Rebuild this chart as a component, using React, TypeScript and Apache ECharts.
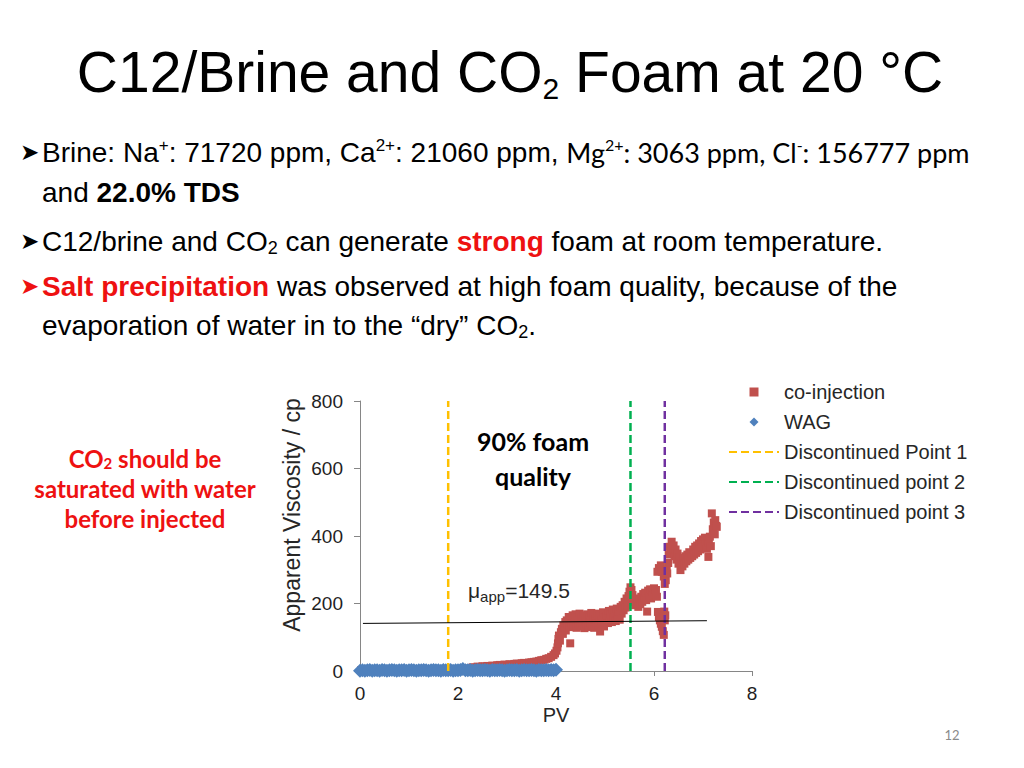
import React, { useEffect, useRef } from "react";
import * as echarts from "echarts";

// ---- data ----
const xTicks = [0, 2, 4, 6, 8];
const yTicks = [0, 200, 400, 600, 800];

// co-injection: [PV, apparent viscosity cp]
const coInjection: number[][] = [
  [0.02, 2], [0.1, 1], [0.2, 2], [0.3, 1], [0.4, 2], [0.5, 2], [0.6, 1], [0.7, 2], [0.8, 2], [0.9, 3],
  [1.0, 2], [1.1, 2], [1.2, 3], [1.3, 2], [1.4, 3], [1.5, 3], [1.6, 2], [1.7, 3], [1.8, 3], [1.9, 4],
  [2.0, 3], [2.1, 4], [2.15, 4],
  [2.2, 5], [2.25, 8], [2.3, 11], [2.35, 10], [2.4, 13], [2.45, 12], [2.5, 14], [2.55, 13], [2.6, 15],
  [2.65, 14], [2.7, 16], [2.75, 15], [2.8, 17], [2.85, 18], [2.9, 17], [2.95, 19], [3.0, 18], [3.05, 20],
  [3.1, 19], [3.15, 21], [3.2, 22], [3.25, 21], [3.3, 23], [3.35, 24], [3.4, 23], [3.45, 25], [3.5, 26],
  [3.55, 27], [3.6, 28], [3.65, 30], [3.7, 32], [3.75, 33], [3.8, 36], [3.85, 38], [3.9, 42], [3.95, 47],
  [3.98, 52],
  [4.01, 60], [4.03, 70], [4.04, 82], [4.05, 95], [4.06, 105], [4.08, 90], [4.1, 115], [4.12, 125],
  [4.14, 110], [4.15, 135], [4.17, 128], [4.19, 145], [4.2, 120], [4.22, 150], [4.24, 138], [4.26, 160],
  [4.28, 130], [4.29, 82], [4.3, 155], [4.32, 142], [4.34, 165], [4.36, 135],
  [4.38, 150], [4.4, 168], [4.42, 128], [4.44, 158], [4.46, 140], [4.48, 170], [4.5, 132], [4.52, 155],
  [4.54, 145], [4.56, 165], [4.58, 127], [4.6, 150], [4.62, 138], [4.64, 168], [4.66, 130], [4.68, 158],
  [4.7, 145], [4.72, 172], [4.74, 135], [4.76, 160], [4.78, 128], [4.8, 152], [4.82, 142], [4.84, 170],
  [4.86, 135], [4.88, 162], [4.9, 117], [4.92, 150], [4.94, 140], [4.96, 174], [4.98, 132], [5.0, 158],
  [5.02, 145],
  [5.04, 165], [5.06, 142], [5.08, 178], [5.1, 150], [5.12, 168], [5.14, 145], [5.16, 182], [5.18, 155],
  [5.2, 172], [5.22, 148], [5.24, 185], [5.26, 160], [5.28, 176], [5.3, 152], [5.32, 190],
  [5.34, 170], [5.36, 195], [5.38, 180], [5.4, 205], [5.42, 188], [5.44, 215], [5.46, 195], [5.48, 222],
  [5.5, 235], [5.52, 248], [5.54, 240], [5.56, 225], [5.58, 212],
  [5.6, 205], [5.62, 195], [5.64, 215], [5.66, 200], [5.68, 190], [5.7, 210], [5.72, 198], [5.74, 220],
  [5.76, 205], [5.78, 228], [5.86, 176],
  [5.8, 215], [5.82, 232], [5.84, 210], [5.88, 238], [5.9, 220], [5.92, 242], [5.94, 215], [5.96, 235],
  [5.98, 225], [6.0, 245], [6.02, 228], [6.04, 240], [6.06, 220],
  [6.08, 175], [6.1, 160], [6.12, 150], [6.14, 140], [6.16, 131], [6.18, 118], [6.2, 107], [6.22, 150],
  [6.23, 165], [6.21, 176], [6.19, 160],
  [6.07, 294], [6.1, 305], [6.14, 313], [6.16, 294], [6.2, 280], [6.22, 258], [6.24, 269], [6.26, 300],
  [6.27, 289], [6.29, 320],
  [6.3, 345], [6.32, 368], [6.34, 355], [6.36, 383], [6.38, 350], [6.4, 372], [6.42, 340], [6.44, 360],
  [6.46, 330], [6.48, 348], [6.5, 318], [6.52, 335], [6.54, 299], [6.56, 322], [6.58, 310], [6.6, 335],
  [6.62, 318], [6.64, 340], [6.66, 325], [6.68, 345], [6.7, 330], [6.72, 352], [6.74, 335], [6.76, 348],
  [6.78, 340], [6.8, 360], [6.82, 345], [6.84, 368], [6.86, 350], [6.88, 372], [6.9, 355], [6.92, 378],
  [6.94, 360], [6.96, 385], [6.98, 365], [7.0, 390], [7.02, 370], [7.04, 395], [7.06, 375], [7.08, 362],
  [7.1, 388], [7.11, 338], [7.12, 380], [7.14, 398], [7.16, 370], [7.18, 467], [7.2, 420], [7.22, 440],
  [7.24, 405], [7.25, 447], [7.27, 430], [7.28, 427],
];

// WAG
const wagPV = [
  0, 0.05, 0.1, 0.15, 0.2, 0.25, 0.3, 0.35, 0.4, 0.45, 0.5, 0.55, 0.6, 0.65, 0.7, 0.75, 0.8, 0.85, 0.9, 0.95,
  1, 1.05, 1.1, 1.15, 1.2, 1.25, 1.3, 1.35, 1.4, 1.45, 1.5, 1.55, 1.6, 1.65, 1.7, 1.75, 1.8, 1.85, 1.9, 1.95,
  2, 2.05, 2.1, 2.15, 2.2, 2.25, 2.3, 2.35, 2.4, 2.45, 2.5, 2.55, 2.6, 2.65, 2.7, 2.75, 2.8, 2.85, 2.9, 2.95,
  3, 3.05, 3.1, 3.15, 3.2, 3.25, 3.3, 3.35, 3.4, 3.45, 3.5, 3.55, 3.6, 3.65, 3.7, 3.75, 3.8, 3.85, 3.9, 3.95,
  4,
];
const wagVisc = [
  1, 2, 1, 2, 3, 1, 2, 2, 1, 3,
  2, 1, 2, 3, 2, 1, 2, 2, 3, 1,
  2, 3, 2, 1, 2, 2, 3, 2, 1, 2,
  3, 2, 2, 1, 3, 2, 2, 3, 1, 2,
  2, 3, 6, 2, 2, 3, 1, 2, 3, 2,
  2, 3, 2, 1, 3, 2, 2, 3, 2, 1,
  2, 3, 2, 2, 3, 1, 2, 3, 2, 2,
  3, 2, 1, 3, 2, 2, 3, 2, 3, 2,
  4,
];

// discontinued points (PV)
const discNames = ["Discontinued Point 1", "Discontinued point 2", "Discontinued point 3"];
const discPV = [1.8, 5.52, 6.22];
const discColors = ["#FFC000", "#00B050", "#7030A0"];

// average apparent viscosity line
const muPV = [0.06, 7.08];
const muVisc = [141, 149];

const AR = "'Liberation Sans', Arial, sans-serif";
const CA = "Lato, Carlito, sans-serif";
const RED = "#EE1111";

export default function App() {
  const ref = useRef<HTMLDivElement>(null);

  useEffect(() => {
    const chart = echarts.init(ref.current as HTMLDivElement, null, { renderer: "svg" });

    const txt = (x: number, y: number, style: any, extra: any = {}) => ({
      type: "text",
      x,
      y,
      silent: true,
      style: {
        textAlign: "left",
        align: "left",
        textVerticalAlign: "middle",
        verticalAlign: "middle",
        ...style,
      },
      ...extra,
    });

    const a = { fontSize: 28, fontFamily: AR, fill: "#000", lineHeight: 40 };
    const ab = { ...a, fontWeight: "bold" };
    const ar = { ...a, fontWeight: "bold", fill: RED };
    const asup = { fontSize: 17, fontFamily: AR, fill: "#000", lineHeight: 20, padding: [0, 0, 14, 0] };
    const asub = { fontSize: 18, fontFamily: AR, fill: "#000", lineHeight: 20, padding: [14, 0, 0, 0] };
    const c = { fontSize: 27, fontFamily: CA, fill: "#000", lineHeight: 40 };
    const csup = { fontSize: 16, fontFamily: CA, fill: "#000", lineHeight: 20, padding: [0, 0, 16, 0] };

    const NB = "\u00A0";
    const ARROW = { text: "➤", fontSize: 23, fontFamily: "'DejaVu Sans'" };

    const graphics: any[] = [
      // title
      txt(510, 72, {
        text: `{a|C12/Brine and CO}{s|2}{a|${NB}Foam at 20 °C}`,
        textAlign: "center",
        align: "center",
        rich: {
          a: { fontSize: 57, fontFamily: AR, fill: "#000", lineHeight: 66 },
          s: { fontSize: 30, fontFamily: AR, fill: "#000", lineHeight: 30, padding: [33, 0, 0, 0] },
        },
      }),
      // bullet arrows
      txt(20, 152, { ...ARROW, fill: "#000" }),
      txt(20, 241, { ...ARROW, fill: "#000" }),
      txt(20, 286, { ...ARROW, fill: RED }),
      // bullet 1
      txt(42, 152, {
        text:
          `{a|Brine: Na}{as|+}{a|: 71720 ppm, Ca}{as|2+}{a|: 21060 ppm,${NB}}` +
          `{c|Mg}{cs|2+}{c|: 3063 ppm, Cl}{cs|-}{c|: 156777 ppm}`,
        rich: { a, as: asup, c, cs: csup },
      }),
      txt(42, 192, { text: `{a|and${NB}}{ab|22.0% TDS}`, rich: { a, ab } }),
      // bullet 2
      txt(42, 241, {
        text: `{a|C12/brine and CO}{s|2}{a|${NB}can generate${NB}}{r|strong}{a|${NB}foam at room temperature.}`,
        rich: { a, s: asub, r: ar },
      }),
      // bullet 3
      txt(42, 286, {
        text: `{r|Salt precipitation}{a|${NB}was observed at high foam quality, because of the}`,
        rich: { a, r: ar },
      }),
      txt(42, 325, {
        text: `{a|evaporation of water in to the “dry” CO}{s|2}{a|.}`,
        rich: { a, s: asub },
      }),
      // left red note
      txt(145, 488, {
        text: `{r|CO}{rs|2}{r|${NB}should be}\n{r|saturated with water}\n{r|before injected}`,
        textAlign: "center",
        align: "center",
        rich: {
          r: { fontSize: 24, fontFamily: CA, fontWeight: "bold", fill: RED, lineHeight: 30, align: "center" },
          rs: {
            fontSize: 15, fontFamily: CA, fontWeight: "bold", fill: RED, lineHeight: 16,
            padding: [10, 0, 0, 0],
          },
        },
      }),
      // 90% foam quality
      txt(533, 458, {
        text: "90% foam\nquality",
        textAlign: "center",
        align: "center",
        fontSize: 25,
        fontFamily: CA,
        fontWeight: "bold",
        fill: "#000",
        lineHeight: 35,
      }),
      // mu_app label
      txt(468, 590, {
        text: `{m|μ}{s|app}{m|=149.5}`,
        rich: {
          m: { fontSize: 21, fontFamily: AR, fill: "#262626", lineHeight: 26 },
          s: { fontSize: 15, fontFamily: AR, fill: "#262626", lineHeight: 16, padding: [13, 0, 0, 0] },
        },
      }),
      // y axis title
      txt(
        292,
        515,
        {
          text: "Apparent Viscosity / cp",
          textAlign: "center",
          align: "center",
          fontSize: 23,
          fontFamily: AR,
          fill: "#262626",
        },
        { rotation: Math.PI / 2 }
      ),
      // page number
      txt(952, 735, { text: "12", textAlign: "center", align: "center", fontSize: 13, fontFamily: CA, fill: "#8A8A8A" }),
    ];

    const option: any = {
      animation: false,
      backgroundColor: "#ffffff",
      grid: { left: 360, top: 401, right: 272, bottom: 97, containLabel: false },
      xAxis: {
        type: "value",
        min: xTicks[0],
        max: xTicks[xTicks.length - 1],
        interval: xTicks[1] - xTicks[0],
        name: "PV",
        nameLocation: "middle",
        nameGap: 34,
        nameTextStyle: { fontSize: 20, fontFamily: AR, color: "#262626" },
        axisLine: { show: true, lineStyle: { color: "#868686", width: 1 } },
        axisTick: { show: true, length: 5, lineStyle: { color: "#868686" } },
        axisLabel: { fontSize: 19, fontFamily: AR, color: "#1f1f1f", margin: 13 },
        splitLine: { show: false },
      },
      yAxis: {
        type: "value",
        min: yTicks[0],
        max: yTicks[yTicks.length - 1],
        interval: yTicks[1] - yTicks[0],
        axisLine: { show: true, lineStyle: { color: "#868686", width: 1 } },
        axisTick: { show: true, length: 6, lineStyle: { color: "#868686" } },
        axisLabel: { fontSize: 19, fontFamily: AR, color: "#1f1f1f", margin: 17 },
        splitLine: { show: false },
      },
      legend: {
        orient: "vertical",
        left: 728,
        top: 382,
        padding: 0,
        itemWidth: 50,
        itemHeight: 9,
        itemGap: 10,
        selectedMode: false,
        symbolKeepAspect: true,
        textStyle: { fontSize: 20, fontFamily: AR, color: "#262626" },
        data: [
          { name: "co-injection", icon: "path://M0,0L10,0L10,10L0,10Z" },
          { name: "WAG", icon: "path://M5,0L10,5L5,10L0,5Z" },
          ...discNames.map((n) => ({ name: n, itemStyle: { opacity: 0 } })),
        ],
      },
      series: [
        {
          name: "co-injection",
          type: "scatter",
          symbol: "rect",
          symbolSize: 8,
          itemStyle: { color: "#C0504D", opacity: 1 },
          data: coInjection,
        },
        ...discNames.map((n, i) => ({
          name: n,
          type: "line",
          symbol: "none",
          color: discColors[i],
          lineStyle: { color: discColors[i], width: 2.5, type: [8, 4] },
          itemStyle: { color: discColors[i] },
          data: [
            [discPV[i], yTicks[0]],
            [discPV[i], yTicks[yTicks.length - 1]],
          ],
        })),
        {
          name: "mu",
          type: "line",
          symbol: "none",
          lineStyle: { color: "#000", width: 1 },
          data: muPV.map((p, i) => [p, muVisc[i]]),
        },
        {
          name: "WAG",
          type: "scatter",
          symbol: "diamond",
          symbolSize: 14,
          itemStyle: { color: "#4F81BD", opacity: 1 },
          data: wagPV.map((p, i) => [p, wagVisc[i]]),
        },
      ],
      graphic: { elements: graphics },
    };

    chart.setOption(option);
    return () => chart.dispose();
  }, []);

  return (
    <div
      ref={ref}
      style={{ position: "absolute", left: 0, top: 0, width: 1024, height: 768, background: "#fff" }}
    />
  );
}
